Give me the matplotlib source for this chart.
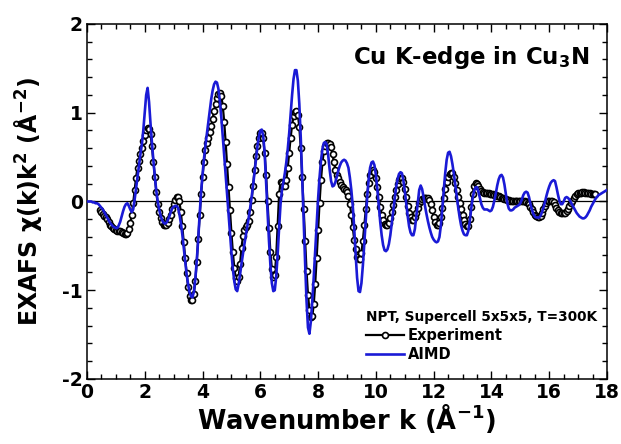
import numpy as np
import matplotlib
matplotlib.use("Agg")
import matplotlib.pyplot as plt
from matplotlib.ticker import MultipleLocator

plt.rcParams['font.family'] = ['DejaVu Sans']
plt.rcParams['font.weight'] = 'bold'
plt.rcParams['axes.unicode_minus'] = False
plt.rcParams['mathtext.fontset'] = 'custom'
plt.rcParams['mathtext.rm'] = 'DejaVu Sans:bold'
plt.rcParams['mathtext.it'] = 'DejaVu Sans:bold'
plt.rcParams['mathtext.bf'] = 'DejaVu Sans:bold'

# k step of both data sets (1/A)
k_step = 0.05

# AIMD chi(k)k^2, k = 0.00 ... 18.00, one row per unit of k
aimd_k0 = 0.0
aimd_rows = [
    [0.00, 0.00, 0.00, 0.00, -0.01, -0.01, -0.02, -0.02, -0.03, -0.05, -0.07, -0.09, -0.12, -0.15, -0.18, -0.21, -0.24, -0.26, -0.28, -0.29],
    [-0.30, -0.30, -0.27, -0.23, -0.17, -0.11, -0.06, -0.03, -0.02, -0.05, -0.09, -0.12, -0.09, 0.02, 0.15, 0.29, 0.42, 0.53, 0.64, 0.80],
    [1.00, 1.20, 1.28, 1.12, 0.88, 0.66, 0.46, 0.28, 0.12, 0.00, -0.09, -0.16, -0.21, -0.24, -0.25, -0.24, -0.21, -0.17, -0.12, -0.08],
    [-0.06, -0.05, -0.05, -0.07, -0.14, -0.24, -0.37, -0.52, -0.67, -0.82, -0.93, -1.02, -1.07, -1.08, -1.02, -0.88, -0.67, -0.43, -0.15, 0.10],
    [0.30, 0.48, 0.63, 0.76, 0.90, 1.03, 1.15, 1.25, 1.32, 1.35, 1.34, 1.27, 1.13, 0.95, 0.74, 0.52, 0.30, 0.08, -0.14, -0.36],
    [-0.57, -0.76, -0.90, -0.99, -1.01, -0.93, -0.82, -0.70, -0.59, -0.48, -0.38, -0.28, -0.18, -0.07, 0.05, 0.18, 0.33, 0.48, 0.62, 0.73],
    [0.80, 0.81, 0.74, 0.55, 0.22, -0.12, -0.44, -0.72, -0.92, -1.01, -1.00, -0.85, -0.60, -0.30, -0.03, 0.13, 0.22, 0.32, 0.44, 0.59],
    [0.77, 0.98, 1.20, 1.38, 1.48, 1.48, 1.36, 1.10, 0.72, 0.27, -0.20, -0.68, -1.12, -1.42, -1.49, -1.35, -1.12, -0.85, -0.55, -0.25],
    [0.03, 0.27, 0.46, 0.59, 0.66, 0.67, 0.64, 0.52, 0.36, 0.23, 0.17, 0.18, 0.22, 0.28, 0.35, 0.40, 0.44, 0.46, 0.47, 0.46],
    [0.43, 0.38, 0.27, 0.13, -0.05, -0.30, -0.60, -0.86, -1.01, -1.02, -0.92, -0.72, -0.47, -0.20, 0.05, 0.25, 0.38, 0.44, 0.45, 0.41],
    [0.30, 0.14, -0.05, -0.23, -0.38, -0.49, -0.55, -0.56, -0.54, -0.48, -0.38, -0.25, -0.11, 0.03, 0.16, 0.25, 0.31, 0.33, 0.32, 0.24],
    [0.12, -0.02, -0.16, -0.28, -0.35, -0.38, -0.38, -0.31, -0.16, 0.00, 0.13, 0.18, 0.14, 0.05, -0.05, -0.14, -0.22, -0.29, -0.35, -0.40],
    [-0.43, -0.45, -0.46, -0.45, -0.40, -0.27, -0.08, 0.13, 0.32, 0.47, 0.55, 0.56, 0.51, 0.42, 0.31, 0.18, 0.05, -0.07, -0.18, -0.27],
    [-0.33, -0.37, -0.38, -0.38, -0.33, -0.22, -0.08, 0.04, 0.12, 0.16, 0.16, 0.11, 0.04, -0.03, -0.07, -0.09, -0.09, -0.09, -0.10, -0.11],
    [-0.10, -0.06, 0.01, 0.09, 0.18, 0.25, 0.29, 0.30, 0.27, 0.19, 0.08, -0.02, -0.08, -0.10, -0.10, -0.09, -0.07, -0.06, -0.05, -0.04],
    [-0.02, 0.02, 0.07, 0.10, 0.11, 0.10, 0.05, -0.03, -0.09, -0.14, -0.17, -0.18, -0.18, -0.18, -0.16, -0.12, -0.07, -0.01, 0.06, 0.12],
    [0.17, 0.21, 0.23, 0.24, 0.23, 0.16, 0.08, 0.01, -0.03, -0.03, 0.00, 0.04, 0.05, 0.04, 0.02, -0.01, -0.04, -0.07, -0.10, -0.13],
    [-0.15, -0.17, -0.18, -0.19, -0.19, -0.18, -0.16, -0.13, -0.10, -0.06, -0.03, 0.00, 0.03, 0.05, 0.07, 0.08, 0.09, 0.10, 0.11, 0.12],
    [0.13],
]

# Experiment chi(k)k^2, k = 0.45 ... 17.60
exp_k0 = 0.45
exp_rows = [
    [-0.10, -0.12, -0.14, -0.16, -0.18, -0.20, -0.23, -0.26, -0.28, -0.30, -0.31],
    [-0.32, -0.33, -0.33, -0.33, -0.34, -0.35, -0.37, -0.37, -0.35, -0.31, -0.24, -0.15, -0.02, 0.13, 0.27, 0.38, 0.46, 0.53, 0.60, 0.68],
    [0.75, 0.80, 0.83, 0.82, 0.76, 0.62, 0.45, 0.28, 0.11, -0.03, -0.12, -0.19, -0.23, -0.26, -0.27, -0.26, -0.24, -0.20, -0.15, -0.09],
    [-0.03, 0.02, 0.05, 0.05, 0.00, -0.12, -0.28, -0.46, -0.64, -0.81, -0.96, -1.06, -1.11, -1.11, -1.04, -0.90, -0.68, -0.42, -0.15, 0.08],
    [0.28, 0.45, 0.58, 0.66, 0.72, 0.78, 0.85, 0.93, 1.02, 1.10, 1.17, 1.21, 1.22, 1.19, 1.08, 0.90, 0.67, 0.42, 0.16, -0.10],
    [-0.35, -0.57, -0.75, -0.86, -0.90, -0.85, -0.70, -0.52, -0.39, -0.32, -0.29, -0.27, -0.22, -0.12, 0.02, 0.18, 0.35, 0.51, 0.63, 0.72],
    [0.77, 0.77, 0.71, 0.55, 0.30, 0.00, -0.30, -0.57, -0.76, -0.85, -0.83, -0.62, -0.28, 0.08, 0.22, 0.21, 0.17, 0.17, 0.24, 0.38],
    [0.55, 0.72, 0.86, 0.96, 1.01, 1.02, 0.98, 0.84, 0.60, 0.28, -0.08, -0.44, -0.78, -1.05, -1.22, -1.30, -1.29, -1.16, -0.93, -0.64],
    [-0.32, -0.02, 0.24, 0.44, 0.57, 0.63, 0.66, 0.66, 0.65, 0.61, 0.53, 0.44, 0.36, 0.30, 0.26, 0.22, 0.19, 0.16, 0.14, 0.13],
    [0.11, 0.06, -0.03, -0.15, -0.29, -0.43, -0.54, -0.62, -0.65, -0.65, -0.58, -0.44, -0.27, -0.09, 0.08, 0.21, 0.30, 0.34, 0.35, 0.33],
    [0.26, 0.16, 0.05, -0.06, -0.15, -0.21, -0.25, -0.26, -0.26, -0.24, -0.19, -0.12, -0.04, 0.05, 0.13, 0.20, 0.24, 0.26, 0.26, 0.22],
    [0.14, 0.05, -0.05, -0.13, -0.18, -0.21, -0.21, -0.18, -0.13, -0.07, -0.02, 0.01, 0.03, 0.04, 0.04, 0.04, 0.04, 0.02, -0.03, -0.10],
    [-0.17, -0.23, -0.26, -0.27, -0.24, -0.17, -0.07, 0.04, 0.14, 0.22, 0.28, 0.31, 0.32, 0.32, 0.28, 0.21, 0.13, 0.05, -0.02, -0.09],
    [-0.15, -0.21, -0.25, -0.28, -0.28, -0.20, -0.06, 0.08, 0.18, 0.21, 0.20, 0.17, 0.14, 0.12, 0.11, 0.10, 0.10, 0.10, 0.09, 0.08],
    [0.08, 0.08, 0.07, 0.07, 0.06, 0.06, 0.05, 0.04, 0.04, 0.03, 0.03, 0.02, 0.02, 0.01, 0.01, 0.01, 0.00, 0.00, 0.00, 0.00],
    [0.00, 0.01, 0.01, 0.00, -0.01, -0.02, -0.03, -0.06, -0.09, -0.12, -0.15, -0.16, -0.17, -0.17, -0.16, -0.13, -0.09, -0.05, -0.02, 0.00],
    [0.01, 0.01, 0.01, -0.01, -0.04, -0.07, -0.10, -0.12, -0.13, -0.13, -0.13, -0.13, -0.11, -0.08, -0.05, -0.02, 0.01, 0.04, 0.06, 0.08],
    [0.09, 0.10, 0.10, 0.11, 0.11, 0.10, 0.10, 0.09, 0.09, 0.08, 0.08, 0.08, 0.08],
]

aimd_chi = np.concatenate([np.array(r) for r in aimd_rows])
aimd_k = aimd_k0 + k_step * np.arange(len(aimd_chi))
exp_chi = np.concatenate([np.array(r) for r in exp_rows])
exp_k = exp_k0 + k_step * np.arange(len(exp_chi))

blue = '#1a1ad6'

fig = plt.figure(figsize=(6.21, 4.44), dpi=100)
ax = fig.add_axes([0.140, 0.1464, 0.8375, 0.7996])

ax.axhline(0, color='black', lw=0.9, zorder=1)
ax.plot(exp_k, exp_chi, '-o', color='black', lw=1.6, ms=4.3, mfc='white',
        mec='black', mew=1.2, label='Experiment', zorder=2)
ax.plot(aimd_k, aimd_chi, '-', color=blue, lw=1.9, label='AIMD', zorder=3)

ax.set_xlim(0, 18)
ax.set_ylim(-2, 2)
ax.xaxis.set_major_locator(MultipleLocator(2))
ax.xaxis.set_minor_locator(MultipleLocator(0.5))
ax.yaxis.set_major_locator(MultipleLocator(1))
ax.yaxis.set_minor_locator(MultipleLocator(0.2))
ax.tick_params(which='both', direction='in', top=True, right=True, width=1)
ax.tick_params(which='major', length=6, labelsize=13.5, pad=3)
ax.tick_params(which='minor', length=3.5)
for s in ax.spines.values():
    s.set_linewidth(1.1)

ax.set_xlabel(r'Wavenumber k (Å$^{-1}$)', fontsize=18.5, fontweight='bold', labelpad=0)
ax.set_ylabel(r'EXAFS χ(k)k$^{2}$ (Å$^{-2}$)', fontsize=17, fontweight='bold', labelpad=13)

ax.text(0.965, 0.905, r'Cu K-edge in Cu$_{3}$N', transform=ax.transAxes,
        ha='right', va='center', fontsize=16.5, fontweight='bold')

leg = ax.legend(loc='lower right', bbox_to_anchor=(1.0, 0.02), frameon=False,
                title='NPT, Supercell 5x5x5, T=300K', fontsize=10.5,
                handlelength=2.6, handletextpad=0.3, labelspacing=0.25,
                borderaxespad=0.3)
leg.get_title().set_fontsize(9.8)
leg.get_title().set_fontweight('bold')
leg._legend_box.align = 'left'

fig.savefig('out.png', dpi=100)
